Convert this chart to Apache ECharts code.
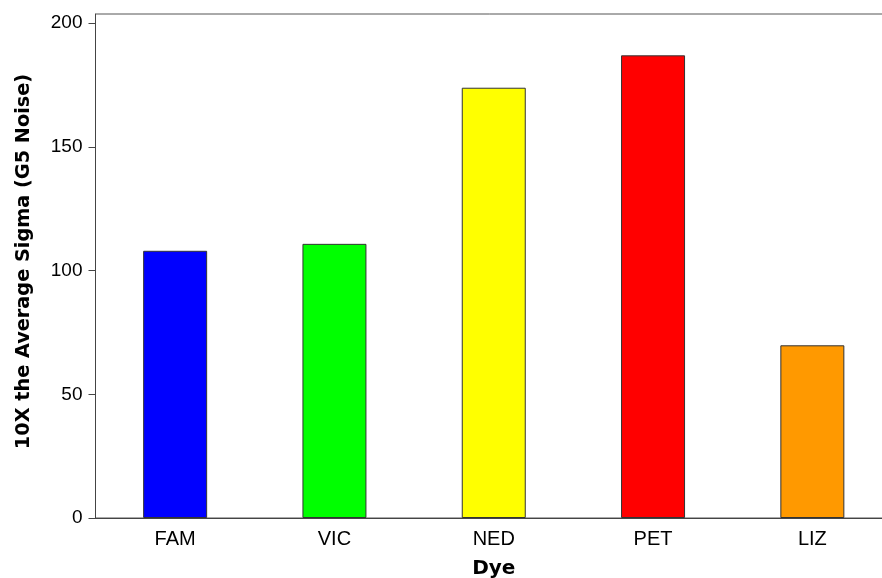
<!DOCTYPE html>
<html>
<head>
<meta charset="utf-8">
<script src="https://cdn.jsdelivr.net/npm/echarts@6/dist/echarts.min.js"></script>
<style>html,body{margin:0;padding:0;background:#fff}#c{width:882px;height:578px}</style>
</head>
<body>
<div id="c"></div>
<script>
var categories = ['FAM', 'VIC', 'NED', 'PET', 'LIZ'];
var values = [108, 110.8, 173.9, 187, 69.8];
var barColors = ['#0000FF', '#00FF00', '#FFFF00', '#FF0000', '#FF9900'];
var yTicks = [0, 50, 100, 150, 200];
var yTitle = '10X the Average Sigma (G5 Noise)';
var xTitle = 'Dye';

var chart = echarts.init(document.getElementById('c'), null, {renderer: 'canvas'});
chart.setOption({
  animation: false,
  backgroundColor: '#fff',
  grid: {left: 95.5, right: -10, top: 14, bottom: 60, containLabel: false, outerBoundsMode: 'none', show: true, borderColor: '#555', borderWidth: 1, backgroundColor: 'transparent'},
  xAxis: {
    type: 'category',
    data: categories,
    name: xTitle,
    nameLocation: 'middle',
    nameGap: 41,
    nameTextStyle: {fontFamily: 'DejaVu Sans', fontWeight: 'bold', fontSize: 20, color: '#000'},
    axisLine: {lineStyle: {color: '#444', width: 1}},
    axisTick: {alignWithLabel: true, length: 8, lineStyle: {color: '#777'}},
    axisLabel: {fontFamily: 'Liberation Sans', fontSize: 20, color: '#000', margin: 11}
  },
  yAxis: {
    type: 'value',
    min: 0,
    max: 203.7,
    interval: 50,
    name: yTitle,
    nameLocation: 'middle',
    nameGap: 62,
    nameTextStyle: {fontFamily: 'DejaVu Sans', fontWeight: 'bold', fontSize: 19.3, color: '#000', padding: [0, 0, 0, 9]},
    splitLine: {show: false},
    axisLine: {show: true, lineStyle: {color: '#444', width: 1}},
    axisTick: {show: true, length: 7, lineStyle: {color: '#444'}, customValues: yTicks},
    axisLabel: {fontFamily: 'Liberation Sans', fontSize: 19, color: '#000', margin: 13, customValues: yTicks}
  },
  series: [{
    type: 'bar',
    barWidth: 64,
    data: values.map(function (v, i) {
      return {value: v, itemStyle: {color: barColors[i], borderColor: '#333', borderWidth: 1}};
    })
  }]
});
</script>
</body>
</html>
